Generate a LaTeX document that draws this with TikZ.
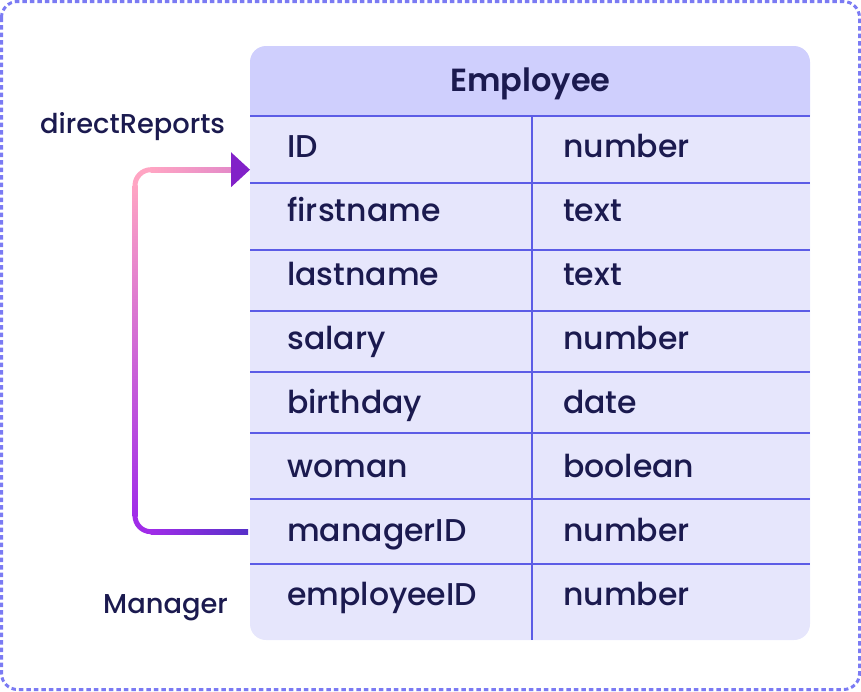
\documentclass[tikz,border=0pt]{standalone}
\usepackage{fontspec}
\setmainfont{Poppins Medium}[BoldFont={Poppins SemiBold}]
\usetikzlibrary{calc}
\definecolor{cborder}{HTML}{7B7BF3}
\definecolor{chead}{HTML}{CFCFFD}
\definecolor{cbody}{HTML}{E6E6FC}
\definecolor{cgrid}{HTML}{5C5CE6}
\definecolor{ctext}{HTML}{1B1A4F}
\definecolor{cpink}{HTML}{FFA5C3}
\definecolor{cmid}{HTML}{D46CD6}
\definecolor{cpurple}{HTML}{A02CE8}
\definecolor{cindigo}{HTML}{5630C8}
\definecolor{cmauve}{HTML}{E48AC8}
\definecolor{carrow}{HTML}{8221C8}
\tikzset{
  cell/.style={anchor=base west, inner sep=0, text=ctext, font=\fontsize{31.5}{38}\selectfont},
  lab/.style={anchor=base west, inner sep=0, text=ctext, font=\fontsize{27.3}{33}\selectfont},
  hdr/.style={anchor=base, inner sep=0, text=ctext, font=\fontsize{32}{38}\selectfont\bfseries},
  rowbox/.style={draw=none, inner sep=0, minimum width=560, anchor=north west},
  grid/.style={cgrid, line width=2},
}
\begin{document}
\begin{tikzpicture}[x=1pt,y=-1pt]
\useasboundingbox (0,0) rectangle (861,691);
% outer dashed frame
\draw[cborder, line width=3, dash pattern=on 4.5 off 3, rounded corners=16] (1.5,1.5) rectangle (859.5,689.5);
% table fills
\fill[chead] (250,116) {[rounded corners=16] -- (250,46) -- (810,46)} -- (810,116) -- cycle;
\fill[cbody] (250,116) {[rounded corners=16] -- (250,640) -- (810,640)} -- (810,116) -- cycle;
% row boxes
\node[rowbox, minimum height=67] (r1) at (250,116) {};
\node[rowbox, minimum height=67] (r2) at (250,183) {};
\node[rowbox, minimum height=61] (r3) at (250,250) {};
\node[rowbox, minimum height=61] (r4) at (250,311) {};
\node[rowbox, minimum height=61] (r5) at (250,372) {};
\node[rowbox, minimum height=66] (r6) at (250,433) {};
\node[rowbox, minimum height=65] (r7) at (250,499) {};
\node[rowbox, minimum height=76] (r8) at (250,564) {};
% grid lines
\foreach \y in {116,183,250,311,372,433,499,564} \draw[grid] (250,\y) -- (810,\y);
\draw[grid] (532,116) -- (532,640);
% header
\node[hdr] (title) at (530.5,91) {Employee};
% cells
\node[cell] (n1) at (287,157) {ID};          \node[cell] (t1) at (563,157) {number};
\node[cell] (n2) at (287,221) {firstname};   \node[cell] (t2) at (563,221) {text};
\node[cell] (n3) at (287,285) {lastname};    \node[cell] (t3) at (563,285) {text};
\node[cell] (n4) at (287,349) {salary};      \node[cell] (t4) at (563,349) {number};
\node[cell] (n5) at (287,413) {birthday};    \node[cell] (t5) at (563,413) {date};
\node[cell] (n6) at (287,477) {woman};       \node[cell] (t6) at (563,477) {boolean};
\node[cell] (n7) at (287,541) {managerID};   \node[cell] (t7) at (563,541) {number};
\node[cell] (n8) at (287,605) {employeeID};  \node[cell] (t8) at (563,605) {number};
% labels
\node[lab] (dr) at (40,133) {directReports};
\node[lab] (mg) at (103,613) {Manager};
% connector
\coordinate (cx) at (135,0);
\coordinate (s) at ($(r7.west)+(-2,0)$);
\coordinate (tip) at ($(r1.west)+(0,20)$);
\coordinate (bl) at (s -| cx);
\coordinate (tl) at (tip -| cx);
\shade[left color=cpurple, right color=cindigo] ($(bl)+(15.5,-2.5)$) rectangle ($(s)+(0,2.5)$);
\draw[cpurple, line width=5, rounded corners=16] ($(bl)+(0,-16)$) -- (bl) -- ($(bl)+(16,0)$);
\shade[top color=cpink, middle color=cmid, bottom color=cpurple] ($(tl)+(-2.5,15.5)$) rectangle ($(bl)+(2.5,-15.5)$);
\draw[cpink, line width=5, rounded corners=16] ($(tl)+(0,16)$) -- (tl) -- ($(tl)+(16,0)$);
\shade[left color=cpink, right color=cmauve] ($(tl)+(15.5,-2.5)$) rectangle ($(tip)+(-18.5,2.5)$);
\fill[carrow] (tip) -- ++(-19,-17.5) -- ++(0,35) -- cycle;
\end{tikzpicture}
\end{document}
